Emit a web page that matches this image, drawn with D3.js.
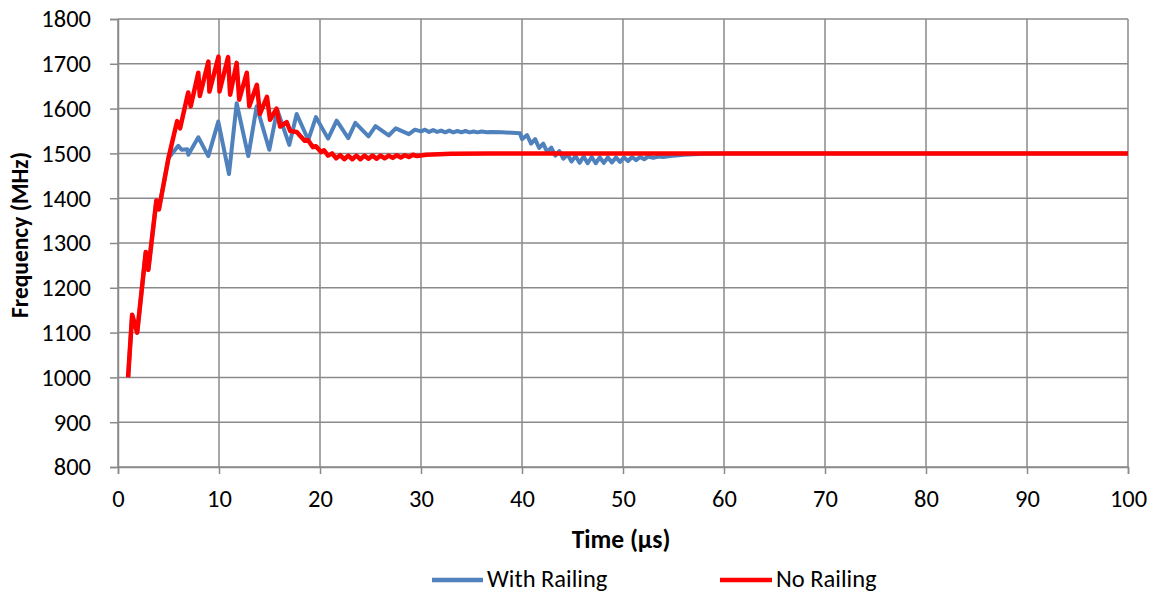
<!DOCTYPE html>
<html>
<head>
<meta charset="utf-8">
<script src="https://cdn.jsdelivr.net/npm/d3@7"></script>
<style>
  html, body { margin: 0; padding: 0; background: #fff; }
  svg { display: block; font-family: Calibri, Carlito, Lato, sans-serif; }
</style>
</head>
<body>
<svg id="chart" width="1155" height="595"></svg>
<script>
// ---- Data ----
const seriesNames = ["With Railing", "No Railing"];
const xTicks = [0, 10, 20, 30, 40, 50, 60, 70, 80, 90, 100];
const yTicks = [800, 900, 1000, 1100, 1200, 1300, 1400, 1500, 1600, 1700, 1800];

const timeNoRailing = [1.0, 1.4, 1.9, 2.75, 3.0, 3.8, 4.05, 5.0, 5.85, 6.15, 6.95, 7.2, 7.95, 8.1, 8.95, 9.05,
  9.95, 10.05, 10.9, 11.1, 11.75, 12.0, 12.75, 13.0, 13.75, 14.05, 14.75, 15.05, 15.7, 16.05, 16.7, 17.05,
  17.7, 18.0, 18.5, 18.8, 19.3, 19.6, 20.1, 20.4, 20.8, 21.2, 21.6, 22.0, 22.4, 22.8, 23.2, 23.6, 24.0,
  24.4, 24.8, 25.2, 25.6, 26.0, 26.4, 26.8, 27.2, 27.6, 28.0, 28.4, 28.8, 29.2, 29.6, 30.5, 33, 37, 100];
const freqNoRailing = [1000, 1140, 1100, 1280, 1240, 1395, 1375, 1490, 1572, 1556, 1636, 1605, 1680, 1628, 1705, 1638,
  1716, 1638, 1715, 1631, 1702, 1620, 1680, 1605, 1653, 1588, 1626, 1575, 1600, 1560, 1570, 1550,
  1548, 1540, 1528, 1530, 1514, 1516, 1503, 1507, 1495, 1500, 1489, 1496, 1487, 1495, 1487, 1495, 1487,
  1495, 1488, 1495, 1488, 1495, 1489, 1495, 1490, 1496, 1491, 1496, 1492, 1497, 1494, 1497, 1499, 1500, 1500];

const timeWithRailing = [1.0, 1.4, 1.9, 2.75, 3.0, 3.8, 4.05, 5.0, 5.97, 6.3, 6.86, 6.96, 7.95, 8.94, 9.93,
  10.99, 11.75, 12.9, 13.73, 14.98, 15.77, 16.96, 17.69, 18.84, 19.6, 20.8, 21.65, 22.8, 23.5, 24.8, 25.5,
  26.8, 27.5, 28.8, 29.4, 30.0, 30.4, 30.8, 31.2, 31.6, 32.0, 32.4, 32.8, 33.2, 33.6, 34.0, 34.4, 34.8,
  35.2, 35.6, 36.0, 36.5, 37, 38, 39, 39.8, 40.0, 40.5, 40.9, 41.3, 41.7, 42.1, 42.5, 42.9, 43.3, 43.7,
  44.1, 44.5, 44.9, 45.3, 45.7, 46.1, 46.5, 46.9, 47.3, 47.7, 48.1, 48.5, 48.9, 49.3, 49.7, 50.1, 50.5,
  50.9, 51.3, 51.7, 52.1, 52.5, 53, 53.5, 54, 55, 56, 58, 60, 100];
const freqWithRailing = [1000, 1140, 1100, 1280, 1240, 1395, 1375, 1490, 1517, 1508, 1509, 1497, 1536, 1494, 1571,
  1454, 1612, 1494, 1605, 1508, 1597, 1519, 1588, 1530, 1581, 1533, 1573, 1534, 1568, 1538, 1561,
  1540, 1556, 1543, 1553, 1549, 1553, 1548, 1552, 1548, 1551, 1547, 1551, 1547, 1550, 1547, 1550, 1547,
  1549, 1547, 1549, 1547, 1548, 1547, 1546, 1545, 1532, 1541, 1522, 1532, 1512, 1522, 1503, 1513, 1495, 1505,
  1488, 1498, 1482, 1494, 1479, 1493, 1478, 1492, 1478, 1491, 1479, 1491, 1480, 1491, 1481, 1491, 1483,
  1492, 1485, 1492, 1487, 1493, 1490, 1493, 1492, 1495, 1497, 1499, 1500, 1500];

// ---- Layout ----
const svg = d3.select("#chart");
const mLeft = 118, mRight = 1128, mTop = 19, mBottom = 467;
const gridColor = "#8a8a8a";
const colors = ["#4F81BD", "#FF0000"];
const fontStack = "Calibri, Carlito, Lato, sans-serif";

const x = d3.scaleLinear().domain([0, 100]).range([mLeft, mRight]);
const y = d3.scaleLinear().domain([800, 1800]).range([mBottom, mTop]);

// Gridlines
svg.append("g").selectAll("line").data(xTicks).join("line")
  .attr("x1", d => x(d)).attr("x2", d => x(d))
  .attr("y1", mTop).attr("y2", mBottom)
  .attr("stroke", gridColor).attr("stroke-width", 1.5);
svg.append("g").selectAll("line").data(yTicks).join("line")
  .attr("x1", mLeft).attr("x2", mRight)
  .attr("y1", d => y(d)).attr("y2", d => y(d))
  .attr("stroke", gridColor).attr("stroke-width", 1.5);

// Axes
const xAxis = svg.append("g").attr("transform", `translate(0,${mBottom})`)
  .call(d3.axisBottom(x).tickValues(xTicks).tickSize(7).tickPadding(16).tickFormat(d3.format("d")));
const yAxis = svg.append("g").attr("transform", `translate(${mLeft},0)`)
  .call(d3.axisLeft(y).tickValues(yTicks).tickSize(8).tickPadding(19).tickFormat(d3.format("d")));
[xAxis, yAxis].forEach(g => {
  g.select(".domain").attr("stroke", gridColor).attr("stroke-width", 1.5);
  g.selectAll(".tick line").attr("stroke", gridColor).attr("stroke-width", 1.5);
  g.selectAll(".tick text").attr("fill", "#000").style("font-size", "24.5px")
    .style("font-family", fontStack);
});

// Lines
const line = d3.line().x(d => x(d[0])).y(d => y(d[1]));
const blueData = timeWithRailing.map((t, i) => [t, freqWithRailing[i]]);
const redData = timeNoRailing.map((t, i) => [t, freqNoRailing[i]]);
svg.append("path").datum(blueData).attr("d", line)
  .attr("fill", "none").attr("stroke", colors[0]).attr("stroke-width", 4)
  .attr("stroke-linejoin", "round");
svg.append("path").datum(redData).attr("d", line)
  .attr("fill", "none").attr("stroke", colors[1]).attr("stroke-width", 4.5)
  .attr("stroke-linejoin", "round");

// Axis titles
svg.append("text").attr("x", 621).attr("y", 548).attr("text-anchor", "middle")
  .style("font-size", "25.5px").style("font-weight", "bold").text("Time (µs)");
svg.append("text").attr("transform", "translate(28,235) rotate(-90)").attr("text-anchor", "middle")
  .style("font-size", "23.5px").style("font-weight", "bold").text("Frequency (MHz)");

// Legend
const legendItems = [
  { name: seriesNames[0], color: colors[0], x1: 432, x2: 483 },
  { name: seriesNames[1], color: colors[1], x1: 720, x2: 772 }
];
const lg = svg.append("g");
legendItems.forEach(it => {
  lg.append("line").attr("x1", it.x1).attr("x2", it.x2).attr("y1", 580).attr("y2", 580)
    .attr("stroke", it.color).attr("stroke-width", 4.5);
  lg.append("text").attr("x", it.x2 + 4).attr("y", 587)
    .style("font-size", "24.5px").text(it.name);
});
</script>
</body>
</html>
